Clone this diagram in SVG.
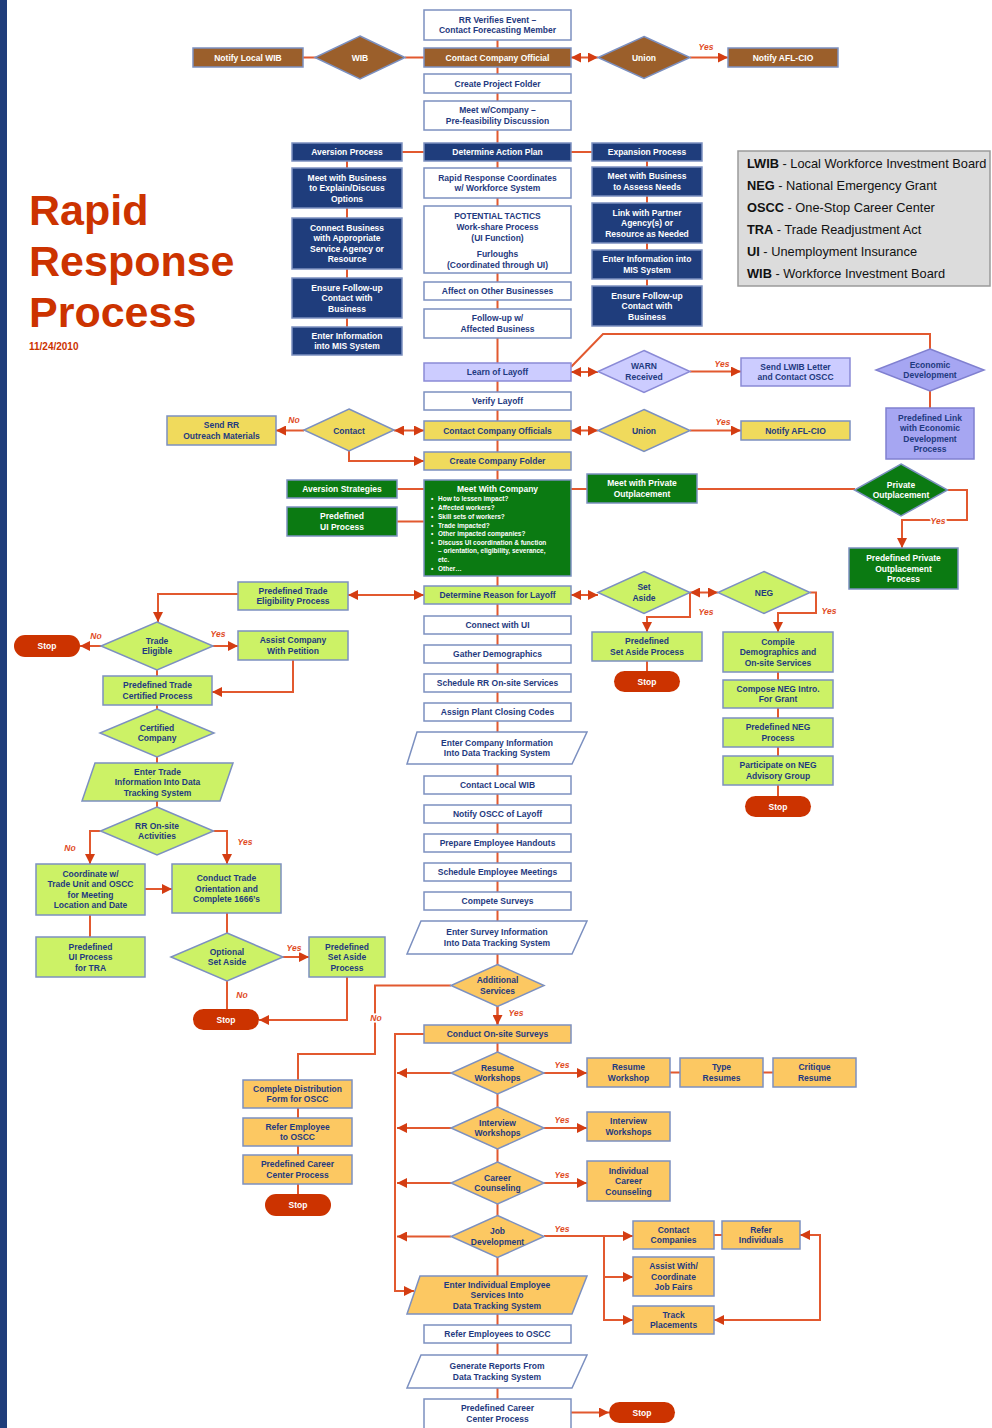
<svg xmlns="http://www.w3.org/2000/svg" width="992" height="1428" viewBox="0 0 992 1428">
<defs>
<marker id="ah" viewBox="0 0 10 10" refX="10" refY="5" markerWidth="10" markerHeight="10" markerUnits="userSpaceOnUse" orient="auto-start-reverse"><path d="M0,0 L10,5 L0,10 z" fill="#d43d12"/></marker>
<style>
.c{fill:none;stroke:#e2592f;stroke-width:2}
.a{marker-end:url(#ah)}
.d{marker-start:url(#ah);marker-end:url(#ah)}
.bx{stroke:#7c90c0;stroke-width:1.5}
.wh{fill:#fff}
.bl{fill:#1f3d7c}
.br{fill:#9b5f2b}
.pu{fill:#ccccff;stroke:#8a8ad6}
.pd{fill:#a6a6f2;stroke:#8080d0}
.ye{fill:#f0da5c}
.gr{fill:#0b7a12}
.lg{fill:#ccf266}
.or{fill:#fcc862}
.st{fill:#cc3300}
.t{font-family:"Liberation Sans",Arial,sans-serif;font-size:8.5px;font-weight:bold;text-anchor:middle;dominant-baseline:central;fill:#1f3a80}
.tw{fill:#fff}
.lb{font-family:"Liberation Sans",Arial,sans-serif;font-size:8.5px;font-weight:bold;font-style:italic;text-anchor:middle;dominant-baseline:central;fill:#e04a1e;paint-order:stroke;stroke:#fff;stroke-width:3}
.mc{font-family:"Liberation Sans",Arial,sans-serif;font-size:6.5px;font-weight:bold;fill:#fff}
.lgd{font-family:"Liberation Sans",Arial,sans-serif;font-size:12.8px;fill:#111}
</style>
</defs>
<rect x="0" y="0" width="992" height="1428" fill="#fff"/>
<rect x="0" y="0" width="7" height="1428" fill="#1f3d7a"/>

<g id="title">
<text x="29" y="225" font-family="Liberation Sans,Arial,sans-serif" font-size="43" font-weight="bold" fill="#cc3300">Rapid</text>
<text x="29" y="276" font-family="Liberation Sans,Arial,sans-serif" font-size="43" font-weight="bold" fill="#cc3300">Response</text>
<text x="29" y="327" font-family="Liberation Sans,Arial,sans-serif" font-size="43" font-weight="bold" fill="#cc3300">Process</text>
<text x="29" y="350" font-family="Liberation Sans,Arial,sans-serif" font-size="10" font-weight="bold" fill="#cc3300">11/24/2010</text>
</g>

<g id="legend">
<rect x="738" y="151" width="252" height="135" fill="#dcdcdc" stroke="#9a9a9a" stroke-width="1.5"/>
<text class="lgd" x="747" y="168"><tspan font-weight="bold">LWIB</tspan> - Local Workforce Investment Board</text>
<text class="lgd" x="747" y="190"><tspan font-weight="bold">NEG</tspan> - National Emergency Grant</text>
<text class="lgd" x="747" y="212"><tspan font-weight="bold">OSCC</tspan> - One-Stop Career Center</text>
<text class="lgd" x="747" y="234"><tspan font-weight="bold">TRA</tspan> - Trade Readjustment Act</text>
<text class="lgd" x="747" y="256"><tspan font-weight="bold">UI</tspan> - Unemployment Insurance</text>
<text class="lgd" x="747" y="278"><tspan font-weight="bold">WIB</tspan> - Workforce Investment Board</text>
</g>

<g id="connectors">
<path class="c" d="M497.5,40 V1399"/>
<path class="c" d="M303,57.5 H316 M405,57.5 H424"/>
<path class="c d" d="M571,57.5 H598"/>
<path class="c a" d="M690,57.5 H728"/>
<path class="c" d="M402,152 H424 M571,152 H592"/>
<path class="c" d="M347,161 V327 M647,161 V286"/>
<path class="c" d="M571,367 L603,334 H930 V349"/>
<path class="c d" d="M571,372 H598"/>
<path class="c a" d="M690,371.5 H741"/>
<path class="c" d="M930,391 V408"/>
<path class="c d" d="M394,430.5 H424"/>
<path class="c a" d="M304,430.5 H276"/>
<path class="c a" d="M349,451 V461 H424"/>
<path class="c d" d="M571,430.5 H598"/>
<path class="c a" d="M690,430.5 H741"/>
<path class="c" d="M397,489 H424 M397,521.5 H424"/>
<path class="c" d="M571,489 H587 M697,489 H855"/>
<path class="c a" d="M947.5,490 H967 V520 H902 V548"/>
<path class="c d" d="M348,595 H424"/>
<path class="c d" d="M571,595 H598"/>
<path class="c d" d="M690,592.5 H718"/>
<path class="c a" d="M690,592.5 V617 H647 V632"/>
<path class="c a" d="M810,592.5 H816 V613 H778 V632"/>
<path class="c" d="M647,661 V671 M778,672 V796"/>
<path class="c a" d="M238,594 H158 V622"/>
<path class="c a" d="M101,646 H80"/>
<path class="c a" d="M213,646 H238"/>
<path class="c a" d="M293,660 V692 H212"/>
<path class="c" d="M157,670 V807"/>
<path class="c a" d="M100.5,831 H90 V864"/>
<path class="c a" d="M213.5,831 H227 V864"/>
<path class="c a" d="M145,889 H172"/>
<path class="c" d="M90,915 V937 M227,913 V933"/>
<path class="c a" d="M283,957 H309"/>
<path class="c" d="M227,981 V1009"/>
<path class="c a" d="M347,977 V1020 H259"/>
<path class="c" d="M451,985.5 H375 V1054 H298 V1080"/>
<path class="c a" d="M497.5,1006.5 V1025"/>
<path class="c a" d="M424,1034 H395 V1291 H414"/>
<path class="c a" d="M451,1073 H397"/>
<path class="c a" d="M451,1128 H397"/>
<path class="c a" d="M451,1183 H397"/>
<path class="c a" d="M451,1236.5 H397"/>
<path class="c a" d="M544,1073 H587"/>
<path class="c a" d="M544,1128 H587"/>
<path class="c a" d="M544,1183 H587"/>
<path class="c" d="M670,1072.5 H680 M763,1072.5 H773"/>
<path class="c a" d="M544,1236 H633"/>
<path class="c a" d="M604,1236 V1320 H633"/>
<path class="c a" d="M604,1277 H633"/>
<path class="c" d="M714,1235 H722"/>
<path class="c d" d="M800,1235 H820 V1320 H714"/>
<path class="c" d="M298,1108 V1118 M298,1146 V1155 M298,1184 V1194"/>
<path class="c a" d="M571,1412.5 H609"/>
</g>

<g id="labels">
<text class="lb" x="706" y="47">Yes</text>
<text class="lb" x="722" y="364">Yes</text>
<text class="lb" x="294" y="420">No</text>
<text class="lb" x="723" y="422">Yes</text>
<text class="lb" x="938" y="521">Yes</text>
<text class="lb" x="706" y="612">Yes</text>
<text class="lb" x="829" y="611">Yes</text>
<text class="lb" x="96" y="636">No</text>
<text class="lb" x="218" y="634">Yes</text>
<text class="lb" x="70" y="848">No</text>
<text class="lb" x="245" y="842">Yes</text>
<text class="lb" x="294" y="948">Yes</text>
<text class="lb" x="242" y="995">No</text>
<text class="lb" x="376" y="1018">No</text>
<text class="lb" x="516" y="1013">Yes</text>
<text class="lb" x="562" y="1065">Yes</text>
<text class="lb" x="562" y="1120">Yes</text>
<text class="lb" x="562" y="1175">Yes</text>
<text class="lb" x="562" y="1229">Yes</text>
</g>

<!-- Top section -->
<g id="n_rr_verifies"><rect class="bx wh" x="424" y="10" width="147" height="30"/><text class="t" x="497.5" y="19.75">RR Verifies Event –<tspan x="497.5" y="30.25">Contact Forecasting Member</tspan></text></g>
<g id="n_contact_official"><rect class="bx br" x="424" y="48" width="147" height="19"/><text class="t tw" x="497.5" y="57.5">Contact Company Official</text></g>
<g id="n_notify_wib"><rect class="bx br" x="193" y="48" width="110" height="19"/><text class="t tw" x="248" y="57.5">Notify Local WIB</text></g>
<g id="n_wib"><polygon class="bx br" points="360,36 405,57.5 360,79 315,57.5"/><text class="t tw" x="360" y="57.5">WIB</text></g>
<g id="n_union1"><polygon class="bx br" points="644,36.5 690,57.5 644,78.5 598,57.5"/><text class="t tw" x="644" y="57.5">Union</text></g>
<g id="n_aflcio1"><rect class="bx br" x="728" y="48" width="110" height="19"/><text class="t tw" x="783" y="57.5">Notify AFL-CIO</text></g>
<g id="n_create_project"><rect class="bx wh" x="424" y="74" width="147" height="19"/><text class="t" x="497.5" y="83.5">Create Project Folder</text></g>
<g id="n_meet_prefeas"><rect class="bx wh" x="424" y="101" width="147" height="29"/><text class="t" x="497.5" y="110.25">Meet w/Company –<tspan x="497.5" y="120.75">Pre-feasibility Discussion</tspan></text></g>
<g id="n_action_plan"><rect class="bx bl" x="424" y="143" width="147" height="18"/><text class="t tw" x="497.5" y="152">Determine Action Plan</text></g>
<g id="n_aversion"><rect class="bx bl" x="292" y="143" width="110" height="18"/><text class="t tw" x="347" y="152">Aversion Process</text></g>
<g id="n_expansion"><rect class="bx bl" x="592" y="143" width="110" height="18"/><text class="t tw" x="647" y="152">Expansion Process</text></g>

<g id="n_av1"><rect class="bx bl" x="292" y="168" width="110" height="40"/><text class="t tw" x="347" y="177.5">Meet with Business<tspan x="347" y="188">to Explain/Discuss</tspan><tspan x="347" y="198.5">Options</tspan></text></g>
<g id="n_av2"><rect class="bx bl" x="292" y="218" width="110" height="51"/><text class="t tw" x="347" y="227.75">Connect Business<tspan x="347" y="238.25">with Appropriate</tspan><tspan x="347" y="248.75">Service Agency or</tspan><tspan x="347" y="259.25">Resource</tspan></text></g>
<g id="n_av3"><rect class="bx bl" x="292" y="278" width="110" height="40"/><text class="t tw" x="347" y="287.5">Ensure Follow-up<tspan x="347" y="298">Contact with</tspan><tspan x="347" y="308.5">Business</tspan></text></g>
<g id="n_av4"><rect class="bx bl" x="292" y="327" width="110" height="28"/><text class="t tw" x="347" y="335.75">Enter Information<tspan x="347" y="346.25">into MIS System</tspan></text></g>

<g id="n_ex1"><rect class="bx bl" x="592" y="167" width="110" height="29"/><text class="t tw" x="647" y="176.25">Meet with Business<tspan x="647" y="186.75">to Assess Needs</tspan></text></g>
<g id="n_ex2"><rect class="bx bl" x="592" y="203" width="110" height="40"/><text class="t tw" x="647" y="212.5">Link with Partner<tspan x="647" y="223">Agency(s) or</tspan><tspan x="647" y="233.5">Resource as Needed</tspan></text></g>
<g id="n_ex3"><rect class="bx bl" x="592" y="250" width="110" height="29"/><text class="t tw" x="647" y="259.25">Enter Information into<tspan x="647" y="269.75">MIS System</tspan></text></g>
<g id="n_ex4"><rect class="bx bl" x="592" y="286" width="110" height="40"/><text class="t tw" x="647" y="295.5">Ensure Follow-up<tspan x="647" y="306">Contact with</tspan><tspan x="647" y="316.5">Business</tspan></text></g>

<g id="n_rr_coord"><rect class="bx wh" x="424" y="168" width="147" height="30"/><text class="t" x="497.5" y="177.75">Rapid Response Coordinates<tspan x="497.5" y="188.25">w/ Workforce System</tspan></text></g>
<g id="n_tactics"><rect class="bx wh" x="424" y="206" width="147" height="67"/><text class="t" x="497.5" y="215.5">POTENTIAL TACTICS<tspan x="497.5" y="226.5">Work-share Process</tspan><tspan x="497.5" y="237.5">(UI Function)</tspan><tspan x="497.5" y="253.5">Furloughs</tspan><tspan x="497.5" y="264.5">(Coordinated through UI)</tspan></text></g>
<g id="n_affect"><rect class="bx wh" x="424" y="282" width="147" height="18"/><text class="t" x="497.5" y="291">Affect on Other Businesses</text></g>
<g id="n_followup"><rect class="bx wh" x="424" y="309" width="147" height="29"/><text class="t" x="497.5" y="318.25">Follow-up w/<tspan x="497.5" y="328.75">Affected Business</tspan></text></g>

<!-- Purple -->
<g id="n_learn"><rect class="bx pu" x="424" y="363" width="147" height="18"/><text class="t" x="497.5" y="372">Learn of Layoff</text></g>
<g id="n_warn"><polygon class="bx pu" points="644,350.5 690,371.5 644,392.5 598,371.5"/><text class="t" x="644" y="366.25">WARN<tspan x="644" y="376.75">Received</tspan></text></g>
<g id="n_send_lwib"><rect class="bx pu" x="741" y="358" width="109" height="28"/><text class="t" x="795.5" y="366.75">Send LWIB Letter<tspan x="795.5" y="377.25">and Contact OSCC</tspan></text></g>
<g id="n_econ"><polygon class="bx pd" points="930,349 984,370 930,391 876,370"/><text class="t" x="930" y="364.75">Economic<tspan x="930" y="375.25">Development</tspan></text></g>
<g id="n_econ_link"><rect class="bx pd" x="886" y="408" width="88" height="51"/><text class="t" x="930" y="417.75">Predefined Link<tspan x="930" y="428.25">with Economic</tspan><tspan x="930" y="438.75">Development</tspan><tspan x="930" y="449.25">Process</tspan></text></g>

<!-- Yellow -->
<g id="n_verify"><rect class="bx wh" x="424" y="392" width="147" height="18"/><text class="t" x="497.5" y="401">Verify Layoff</text></g>
<g id="n_contact_officials"><rect class="bx ye" x="424" y="421" width="147" height="19"/><text class="t" x="497.5" y="430.5">Contact Company Officials</text></g>
<g id="n_contact"><polygon class="bx ye" points="349,409 394,430 349,451 304,430"/><text class="t" x="349" y="430.5">Contact</text></g>
<g id="n_send_rr"><rect class="bx ye" x="167" y="416" width="109" height="29"/><text class="t" x="221.5" y="425.25">Send RR<tspan x="221.5" y="435.75">Outreach Materials</tspan></text></g>
<g id="n_union2"><polygon class="bx ye" points="644,409.5 690,430.5 644,451.5 598,430.5"/><text class="t" x="644" y="430.5">Union</text></g>
<g id="n_aflcio2"><rect class="bx ye" x="741" y="421" width="109" height="19"/><text class="t" x="795.5" y="430.5">Notify AFL-CIO</text></g>
<g id="n_create_folder"><rect class="bx ye" x="424" y="452" width="147" height="18"/><text class="t" x="497.5" y="461">Create Company Folder</text></g>

<!-- Green -->
<g id="n_meet_company"><rect class="bx gr" x="424" y="480" width="147" height="96"/>
<text class="t tw" x="497.5" y="489">Meet With Company</text>
<text class="mc" x="431" y="501">•<tspan x="438">How to lessen impact?</tspan></text>
<text class="mc" x="431" y="510">•<tspan x="438">Affected workers?</tspan></text>
<text class="mc" x="431" y="518.5">•<tspan x="438">Skill sets of workers?</tspan></text>
<text class="mc" x="431" y="527.5">•<tspan x="438">Trade impacted?</tspan></text>
<text class="mc" x="431" y="536">•<tspan x="438">Other impacted companies?</tspan></text>
<text class="mc" x="431" y="544.5">•<tspan x="438">Discuss UI coordination &amp; function</tspan></text>
<text class="mc" x="438" y="553">– orientation, eligibility, severance,</text>
<text class="mc" x="438" y="562">etc.</text>
<text class="mc" x="431" y="570.5">•<tspan x="438">Other…</tspan></text>
</g>
<g id="n_av_strat"><rect class="bx gr" x="287" y="480" width="110" height="18"/><text class="t tw" x="342" y="489">Aversion Strategies</text></g>
<g id="n_ui_proc"><rect class="bx gr" x="287" y="507" width="110" height="29"/><text class="t tw" x="342" y="516.25">Predefined<tspan x="342" y="526.75">UI Process</tspan></text></g>
<g id="n_meet_private"><rect class="bx gr" x="587" y="474" width="110" height="29"/><text class="t tw" x="642" y="483.25">Meet with Private<tspan x="642" y="493.75">Outplacement</tspan></text></g>
<g id="n_private"><polygon class="bx gr" points="901,464 947.5,490 901,516 854.5,490"/><text class="t tw" x="901" y="484.75">Private<tspan x="901" y="495.25">Outplacement</tspan></text></g>
<g id="n_private_proc"><rect class="bx gr" x="849" y="548" width="109" height="41"/><text class="t tw" x="903.5" y="558">Predefined Private<tspan x="903.5" y="568.5">Outplacement</tspan><tspan x="903.5" y="579">Process</tspan></text></g>

<!-- Light green -->
<g id="n_reason"><rect class="bx lg" x="424" y="586" width="147" height="18"/><text class="t" x="497.5" y="595">Determine Reason for  Layoff</text></g>
<g id="n_setaside"><polygon class="bx lg" points="644,571.5 690,592.5 644,613.5 598,592.5"/><text class="t" x="644" y="587.25">Set<tspan x="644" y="597.75">Aside</tspan></text></g>
<g id="n_neg"><polygon class="bx lg" points="764,571.5 810,592.5 764,613.5 718,592.5"/><text class="t" x="764" y="592.5">NEG</text></g>
<g id="n_setaside_proc"><rect class="bx lg" x="592" y="632" width="110" height="29"/><text class="t" x="647" y="641.25">Predefined<tspan x="647" y="651.75">Set Aside Process</tspan></text></g>
<g id="n_stop1"><rect class="st" x="614" y="671" width="66" height="21" rx="10.5"/><text class="t tw" x="647" y="681.5">Stop</text></g>
<g id="n_compile"><rect class="bx lg" x="723" y="632" width="110" height="40"/><text class="t" x="778" y="641.5">Compile<tspan x="778" y="652">Demographics and</tspan><tspan x="778" y="662.5">On-site Services</tspan></text></g>
<g id="n_compose"><rect class="bx lg" x="723" y="680" width="110" height="28"/><text class="t" x="778" y="688.75">Compose NEG Intro.<tspan x="778" y="699.25">For Grant</tspan></text></g>
<g id="n_neg_proc"><rect class="bx lg" x="723" y="718" width="110" height="29"/><text class="t" x="778" y="727.25">Predefined NEG<tspan x="778" y="737.75">Process</tspan></text></g>
<g id="n_neg_adv"><rect class="bx lg" x="723" y="756" width="110" height="29"/><text class="t" x="778" y="765.25">Participate on NEG<tspan x="778" y="775.75">Advisory Group</tspan></text></g>
<g id="n_stop2"><rect class="st" x="745" y="796" width="66" height="21" rx="10.5"/><text class="t tw" x="778" y="806.5">Stop</text></g>

<!-- Trade -->
<g id="n_trade_elig_proc"><rect class="bx lg" x="238" y="582" width="110" height="28"/><text class="t" x="293" y="590.75">Predefined Trade<tspan x="293" y="601.25">Eligibility Process</tspan></text></g>
<g id="n_trade_elig"><polygon class="bx lg" points="157,622 213,646 157,670 101,646"/><text class="t" x="157" y="640.75">Trade<tspan x="157" y="651.25">Eligible</tspan></text></g>
<g id="n_stop3"><rect class="st" x="14" y="635" width="66" height="22" rx="11"/><text class="t tw" x="47" y="646">Stop</text></g>
<g id="n_assist_pet"><rect class="bx lg" x="238" y="631" width="110" height="29"/><text class="t" x="293" y="640.25">Assist Company<tspan x="293" y="650.75">With Petition</tspan></text></g>
<g id="n_trade_cert"><rect class="bx lg" x="103" y="676" width="109" height="29"/><text class="t" x="157.5" y="685.25">Predefined Trade<tspan x="157.5" y="695.75">Certified Process</tspan></text></g>
<g id="n_certified"><polygon class="bx lg" points="157,709 214,733 157,757 100,733"/><text class="t" x="157" y="727.75">Certified<tspan x="157" y="738.25">Company</tspan></text></g>
<g id="n_enter_trade"><polygon class="bx lg" points="95,763 233,763 220,801 82,801"/><text class="t" x="157.5" y="771.5">Enter Trade<tspan x="157.5" y="782">Information Into Data</tspan><tspan x="157.5" y="792.5">Tracking System</tspan></text></g>
<g id="n_rr_onsite"><polygon class="bx lg" points="157,807 213.5,831 157,855 100.5,831"/><text class="t" x="157" y="825.75">RR On-site<tspan x="157" y="836.25">Activities</tspan></text></g>
<g id="n_coordinate"><rect class="bx lg" x="36" y="864" width="109" height="51"/><text class="t" x="90.5" y="873.75">Coordinate w/<tspan x="90.5" y="884.25">Trade Unit and OSCC</tspan><tspan x="90.5" y="894.75">for Meeting</tspan><tspan x="90.5" y="905.25">Location and Date</tspan></text></g>
<g id="n_conduct_trade"><rect class="bx lg" x="172" y="864" width="109" height="49"/><text class="t" x="226.5" y="878">Conduct Trade<tspan x="226.5" y="888.5">Orientation and</tspan><tspan x="226.5" y="899">Complete 1666’s</tspan></text></g>
<g id="n_ui_tra"><rect class="bx lg" x="36" y="937" width="109" height="40"/><text class="t" x="90.5" y="946.5">Predefined<tspan x="90.5" y="957">UI Process</tspan><tspan x="90.5" y="967.5">for TRA</tspan></text></g>
<g id="n_optional"><polygon class="bx lg" points="227,933 283,957 227,981 171,957"/><text class="t" x="227" y="951.75">Optional<tspan x="227" y="962.25">Set Aside</tspan></text></g>
<g id="n_setaside_proc2"><rect class="bx lg" x="309" y="937" width="76" height="40"/><text class="t" x="347" y="946.5">Predefined<tspan x="347" y="957">Set Aside</tspan><tspan x="347" y="967.5">Process</tspan></text></g>
<g id="n_stop4"><rect class="st" x="193" y="1009" width="66" height="21" rx="10.5"/><text class="t tw" x="226" y="1019.5">Stop</text></g>

<!-- Middle column lower -->
<g id="n_connect_ui"><rect class="bx wh" x="424" y="616" width="147" height="18"/><text class="t" x="497.5" y="625">Connect with UI</text></g>
<g id="n_gather"><rect class="bx wh" x="424" y="645" width="147" height="18"/><text class="t" x="497.5" y="654">Gather Demographics</text></g>
<g id="n_schedule_rr"><rect class="bx wh" x="424" y="674" width="147" height="18"/><text class="t" x="497.5" y="683">Schedule RR On-site Services</text></g>
<g id="n_assign"><rect class="bx wh" x="424" y="703" width="147" height="18"/><text class="t" x="497.5" y="712">Assign Plant Closing Codes</text></g>
<g id="n_enter_company"><polygon class="bx wh" points="417,732 587,732 572,764 407,764"/><text class="t" x="497" y="742.75">Enter Company Information<tspan x="497" y="753.25">Into Data Tracking System</tspan></text></g>
<g id="n_contact_wib"><rect class="bx wh" x="424" y="776" width="147" height="18"/><text class="t" x="497.5" y="785">Contact Local WIB</text></g>
<g id="n_notify_oscc"><rect class="bx wh" x="424" y="805" width="147" height="18"/><text class="t" x="497.5" y="814">Notify OSCC of Layoff</text></g>
<g id="n_handouts"><rect class="bx wh" x="424" y="834" width="147" height="18"/><text class="t" x="497.5" y="843">Prepare Employee Handouts</text></g>
<g id="n_meetings"><rect class="bx wh" x="424" y="863" width="147" height="18"/><text class="t" x="497.5" y="872">Schedule Employee Meetings</text></g>
<g id="n_surveys"><rect class="bx wh" x="424" y="892" width="147" height="18"/><text class="t" x="497.5" y="901">Compete Surveys</text></g>
<g id="n_enter_survey"><polygon class="bx wh" points="421,921 587,921 572,954 407,954"/><text class="t" x="497" y="932.25">Enter Survey Information<tspan x="497" y="942.75">Into Data Tracking System</tspan></text></g>
<g id="n_additional"><polygon class="bx or" points="497.5,964.5 544,985.5 497.5,1006.5 451,985.5"/><text class="t" x="497.5" y="980.25">Additional<tspan x="497.5" y="990.75">Services</tspan></text></g>
<g id="n_onsite_surveys"><rect class="bx or" x="424" y="1025" width="147" height="18"/><text class="t" x="497.5" y="1034">Conduct On-site Surveys</text></g>
<g id="n_resume_d"><polygon class="bx or" points="497.5,1052 544,1073 497.5,1094 451,1073"/><text class="t" x="497.5" y="1067.75">Resume<tspan x="497.5" y="1078.25">Workshops</tspan></text></g>
<g id="n_interview_d"><polygon class="bx or" points="497.5,1107 544,1128 497.5,1149 451,1128"/><text class="t" x="497.5" y="1122.75">Interview<tspan x="497.5" y="1133.25">Workshops</tspan></text></g>
<g id="n_career_d"><polygon class="bx or" points="497.5,1162 544,1183 497.5,1204 451,1183"/><text class="t" x="497.5" y="1177.75">Career<tspan x="497.5" y="1188.25">Counseling</tspan></text></g>
<g id="n_jobdev_d"><polygon class="bx or" points="497.5,1215.5 544,1236.5 497.5,1257.5 451,1236.5"/><text class="t" x="497.5" y="1231.25">Job<tspan x="497.5" y="1241.75">Development</tspan></text></g>
<g id="n_enter_indiv"><polygon class="bx or" points="420,1276 587,1276 572,1314 407,1314"/><text class="t" x="497" y="1284.5">Enter Individual Employee<tspan x="497" y="1295">Services Into</tspan><tspan x="497" y="1305.5">Data Tracking System</tspan></text></g>
<g id="n_refer_emps"><rect class="bx wh" x="424" y="1325" width="147" height="18"/><text class="t" x="497.5" y="1334">Refer Employees to OSCC</text></g>
<g id="n_reports"><polygon class="bx wh" points="421,1355 587,1355 572,1388 407,1388"/><text class="t" x="497" y="1366.25">Generate Reports From<tspan x="497" y="1376.75">Data Tracking System</tspan></text></g>
<g id="n_career_proc"><rect class="bx wh" x="424" y="1399" width="147" height="30"/><text class="t" x="497.5" y="1408.25">Predefined Career<tspan x="497.5" y="1418.75">Center Process</tspan></text></g>
<g id="n_stop5"><rect class="st" x="609" y="1402" width="66" height="21" rx="10.5"/><text class="t tw" x="642" y="1412.5">Stop</text></g>

<!-- Lower left -->
<g id="n_distribution"><rect class="bx or" x="243" y="1080" width="109" height="28"/><text class="t" x="297.5" y="1088.75">Complete Distribution<tspan x="297.5" y="1099.25">Form for OSCC</tspan></text></g>
<g id="n_refer_emp"><rect class="bx or" x="243" y="1118" width="109" height="28"/><text class="t" x="297.5" y="1126.75">Refer Employee<tspan x="297.5" y="1137.25">to OSCC</tspan></text></g>
<g id="n_career_proc2"><rect class="bx or" x="243" y="1155" width="109" height="29"/><text class="t" x="297.5" y="1164.25">Predefined Career<tspan x="297.5" y="1174.75">Center Process</tspan></text></g>
<g id="n_stop6"><rect class="st" x="265" y="1194" width="66" height="22" rx="11"/><text class="t tw" x="298" y="1205">Stop</text></g>

<!-- Lower right -->
<g id="n_resume_ws"><rect class="bx or" x="587" y="1058" width="83" height="29"/><text class="t" x="628.5" y="1067.25">Resume<tspan x="628.5" y="1077.75">Workshop</tspan></text></g>
<g id="n_type_res"><rect class="bx or" x="680" y="1058" width="83" height="29"/><text class="t" x="721.5" y="1067.25">Type<tspan x="721.5" y="1077.75">Resumes</tspan></text></g>
<g id="n_critique"><rect class="bx or" x="773" y="1058" width="83" height="29"/><text class="t" x="814.5" y="1067.25">Critique<tspan x="814.5" y="1077.75">Resume</tspan></text></g>
<g id="n_interview_ws"><rect class="bx or" x="587" y="1112" width="83" height="29"/><text class="t" x="628.5" y="1121.25">Interview<tspan x="628.5" y="1131.75">Workshops</tspan></text></g>
<g id="n_indiv_career"><rect class="bx or" x="587" y="1161" width="83" height="40"/><text class="t" x="628.5" y="1170.5">Individual<tspan x="628.5" y="1181">Career</tspan><tspan x="628.5" y="1191.5">Counseling</tspan></text></g>
<g id="n_contact_comp"><rect class="bx or" x="633" y="1221" width="81" height="28"/><text class="t" x="673.5" y="1229.75">Contact<tspan x="673.5" y="1240.25">Companies</tspan></text></g>
<g id="n_refer_indiv"><rect class="bx or" x="722" y="1221" width="78" height="28"/><text class="t" x="761" y="1229.75">Refer<tspan x="761" y="1240.25">Individuals</tspan></text></g>
<g id="n_job_fairs"><rect class="bx or" x="633" y="1257" width="81" height="39"/><text class="t" x="673.5" y="1266">Assist With/<tspan x="673.5" y="1276.5">Coordinate</tspan><tspan x="673.5" y="1287">Job Fairs</tspan></text></g>
<g id="n_track"><rect class="bx or" x="633" y="1306" width="81" height="28"/><text class="t" x="673.5" y="1314.75">Track<tspan x="673.5" y="1325.25">Placements</tspan></text></g>
</svg>
